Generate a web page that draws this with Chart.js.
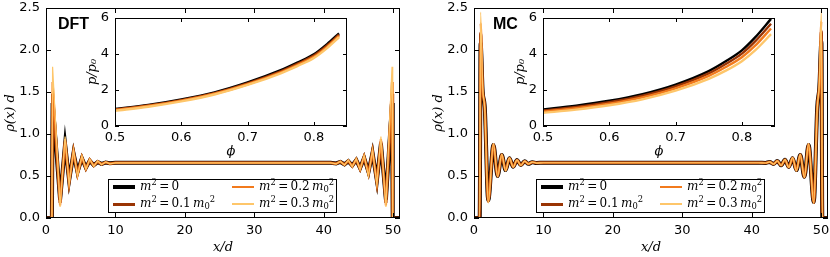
<!DOCTYPE html>
<html>
<head>
<meta charset="utf-8">
<script src="https://cdn.jsdelivr.net/npm/chart.js@4"></script>
<style>
  body { margin: 0; background: #fff; width: 830px; height: 257px; overflow: hidden; position: relative; }
  canvas { position: absolute; }
  .tag { position: absolute; font: bold 16px 'Liberation Sans', Arial, sans-serif; line-height: 16px; }
  .legend { position: absolute; width: 227px; height: 32px; border: 1px solid #000; background: #fff;
            font: 12px 'DejaVu Serif', serif; }
  .legend .ln { position: absolute; width: 22px; }
  .legend .tx { position: absolute; line-height: 14px; white-space: nowrap; }
  .legend i { font-style: italic; }
  .legend sup { font-size: 0.7em; vertical-align: 0.55em; line-height: 0; }
  .legend sub { font-size: 0.7em; vertical-align: -0.25em; line-height: 0; }
</style>
</head>
<body>
<canvas id="dftMain" width="402" height="257" style="left:0;top:0"></canvas>
<canvas id="mcMain" width="402" height="257" style="left:428px;top:0"></canvas>
<canvas id="dftInset" width="270" height="150" style="left:80px;top:10px"></canvas>
<canvas id="mcInset" width="270" height="150" style="left:508px;top:10px"></canvas>
<div class="tag" style="left:58px;top:16px">DFT</div>
<div class="tag" style="left:493px;top:16px">MC</div>
<div class="legend" id="legDft" style="left:108px;top:179px"></div>
<div class="legend" id="legMc" style="left:536px;top:179px"></div>
<script>
// series: m^2 = 0, 0.1, 0.2, 0.3 m0^2
var seriesNames = ['m² = 0', 'm² = 0.1 m₀²', 'm² = 0.2 m₀²', 'm² = 0.3 m₀²'];
var legendHtml = [
  '<i>m</i><sup>2</sup>&thinsp;=&thinsp;0',
  '<i>m</i><sup>2</sup>&thinsp;=&thinsp;0.1&thinsp;<i>m</i><sub>0</sub><sup>2</sup>',
  '<i>m</i><sup>2</sup>&thinsp;=&thinsp;0.2&thinsp;<i>m</i><sub>0</sub><sup>2</sup>',
  '<i>m</i><sup>2</sup>&thinsp;=&thinsp;0.3&thinsp;<i>m</i><sub>0</sub><sup>2</sup>'
];
var seriesColors = ['#000000', '#993404', '#f27a1c', '#fec66a'];
var mainWidths = [4, 3, 2.2, 1.2];

// DFT density profile, x/d
var dftX = [0, 0.85, 0.95, 2.03, 2.75, 3.33, 3.96, 4.54, 5.17, 5.75, 6.30, 6.88, 7.45, 8.00, 8.60, 9.20, 10.0,
            15, 20, 25.5, 31, 36,
            41.0, 41.8, 42.4, 43.0, 43.55, 44.12, 44.7, 45.25, 45.83, 46.46, 47.04, 47.67, 48.25, 48.97, 49.85, 49.95, 51];
var dftM0 = [0, 0, 1.37, 0.22, 0.88, 0.45, 0.77, 0.55, 0.71, 0.60, 0.68, 0.63, 0.665, 0.645, 0.66, 0.652, 0.657,
             0.657, 0.657, 0.657, 0.657, 0.657,
             0.657, 0.650, 0.668, 0.640, 0.675, 0.625, 0.69, 0.595, 0.715, 0.55, 0.775, 0.45, 0.885, 0.22, 1.37, 0, 0];
var dftM01 = [0, 0, 1.48, 0.18, 0.91, 0.43, 0.79, 0.53, 0.72, 0.59, 0.69, 0.625, 0.67, 0.64, 0.662, 0.65, 0.657,
              0.657, 0.657, 0.657, 0.657, 0.657,
              0.657, 0.648, 0.67, 0.636, 0.68, 0.62, 0.695, 0.585, 0.725, 0.535, 0.79, 0.43, 0.91, 0.18, 1.48, 0, 0];
var dftM02 = [0, 0, 1.62, 0.15, 0.94, 0.41, 0.80, 0.51, 0.73, 0.585, 0.695, 0.62, 0.675, 0.64, 0.665, 0.648, 0.657,
              0.657, 0.657, 0.657, 0.657, 0.657,
              0.657, 0.646, 0.672, 0.633, 0.684, 0.615, 0.70, 0.58, 0.735, 0.52, 0.80, 0.41, 0.94, 0.15, 1.62, 0, 0];
var dftM03 = [0, 0, 1.80, 0.13, 0.97, 0.40, 0.81, 0.50, 0.74, 0.58, 0.70, 0.615, 0.68, 0.635, 0.668, 0.645, 0.657,
              0.657, 0.657, 0.657, 0.657, 0.657,
              0.657, 0.644, 0.675, 0.63, 0.69, 0.61, 0.705, 0.575, 0.745, 0.50, 0.81, 0.40, 0.97, 0.13, 1.80, 0, 0];

// MC density profile, x/d
var mcX = [0, 0.82, 0.95, 1.25, 1.55, 2.05, 2.8, 3.4, 4.0, 4.55, 5.1, 5.65, 6.2, 6.75, 7.3, 7.85, 8.4, 9.0, 10,
           15, 20, 25.5, 31, 36,
           41, 42, 42.6, 43.15, 43.7, 44.25, 44.8, 45.35, 45.9, 46.45, 47.0, 47.6, 48.2, 48.95, 49.45, 49.75, 50.05, 50.18, 51];
var mcM0 = [0, 0, 2.08, 1.50, 1.32, 0.21, 0.87, 0.50, 0.75, 0.57, 0.71, 0.61, 0.69, 0.63, 0.675, 0.645, 0.665, 0.655, 0.658,
            0.658, 0.658, 0.658, 0.658, 0.658,
            0.658, 0.656, 0.667, 0.643, 0.678, 0.628, 0.692, 0.608, 0.712, 0.57, 0.75, 0.49, 0.87, 0.19, 1.32, 1.55, 2.10, 0, 0];
var mcM01 = [0, 0, 2.20, 1.52, 1.32, 0.20, 0.875, 0.50, 0.752, 0.57, 0.71, 0.61, 0.69, 0.63, 0.675, 0.645, 0.665, 0.655, 0.658,
             0.658, 0.658, 0.658, 0.658, 0.658,
             0.658, 0.656, 0.667, 0.643, 0.678, 0.627, 0.693, 0.606, 0.714, 0.568, 0.752, 0.488, 0.875, 0.185, 1.32, 1.57, 2.22, 0, 0];
var mcM02 = [0, 0, 2.32, 1.54, 1.31, 0.19, 0.88, 0.495, 0.755, 0.565, 0.712, 0.608, 0.69, 0.628, 0.676, 0.644, 0.665, 0.655, 0.658,
             0.658, 0.658, 0.658, 0.658, 0.658,
             0.658, 0.655, 0.668, 0.642, 0.679, 0.626, 0.694, 0.604, 0.716, 0.565, 0.755, 0.485, 0.88, 0.18, 1.31, 1.59, 2.34, 0, 0];
var mcM03 = [0, 0, 2.45, 1.56, 1.30, 0.18, 0.885, 0.49, 0.76, 0.56, 0.715, 0.605, 0.692, 0.626, 0.677, 0.643, 0.666, 0.654, 0.658,
             0.658, 0.658, 0.658, 0.658, 0.658,
             0.658, 0.655, 0.668, 0.641, 0.68, 0.625, 0.695, 0.602, 0.718, 0.562, 0.758, 0.482, 0.885, 0.175, 1.30, 1.61, 2.47, 0, 0];

// inset: pressure p/p0 against packing fraction phi
var dftPhi = [0.5, 0.55, 0.6, 0.65, 0.7, 0.75, 0.775, 0.8, 0.82, 0.838];
var dftP0  = [0.95, 1.17, 1.48, 1.87, 2.42, 3.10, 3.52, 3.98, 4.55, 5.15];
var dftP01 = [0.92, 1.14, 1.44, 1.83, 2.37, 3.04, 3.45, 3.91, 4.47, 5.07];
var dftP02 = [0.89, 1.11, 1.41, 1.79, 2.32, 2.98, 3.39, 3.84, 4.40, 5.00];
var dftP03 = [0.85, 1.07, 1.37, 1.75, 2.28, 2.93, 3.33, 3.78, 4.33, 4.93];
var mcPhi = [0.5, 0.55, 0.6, 0.65, 0.7, 0.75, 0.775, 0.8, 0.82, 0.844];
var mcP0  = [0.92, 1.13, 1.40, 1.77, 2.30, 3.05, 3.58, 4.20, 4.92, 5.95];
var mcP01 = [0.86, 1.06, 1.32, 1.68, 2.20, 2.92, 3.43, 4.02, 4.70, 5.68];
var mcP02 = [0.80, 0.99, 1.24, 1.59, 2.09, 2.78, 3.26, 3.82, 4.46, 5.42];
var mcP03 = [0.73, 0.91, 1.15, 1.48, 1.96, 2.62, 3.06, 3.60, 4.20, 5.10];

var tickFont = {family: 'DejaVu Sans', size: 13};
var titleFont = {family: 'DejaVu Serif', size: 13, style: 'italic'};

// white plot area, black box and inward ticks on all four sides
var boxFrame = {
  id: 'boxFrame',
  beforeDraw: function(chart) {
    var a = chart.chartArea, ctx = chart.ctx;
    ctx.save();
    ctx.fillStyle = '#fff';
    ctx.fillRect(a.left, a.top, a.right - a.left, a.bottom - a.top);
    ctx.restore();
  },
  afterDraw: function(chart, args, opts) {
    var a = chart.chartArea, ctx = chart.ctx, sx = chart.scales.x, sy = chart.scales.y;
    var len = opts.len || 4;
    ctx.save();
    ctx.strokeStyle = '#000';
    ctx.lineWidth = 1;
    ctx.beginPath();
    sx.ticks.forEach(function(t) {
      var p = Math.round(sx.getPixelForValue(t.value)) + 0.5;
      ctx.moveTo(p, a.bottom); ctx.lineTo(p, a.bottom - len);
      ctx.moveTo(p, a.top); ctx.lineTo(p, a.top + len);
    });
    sy.ticks.forEach(function(t) {
      var p = Math.round(sy.getPixelForValue(t.value)) + 0.5;
      ctx.moveTo(a.left, p); ctx.lineTo(a.left + len, p);
      ctx.moveTo(a.right, p); ctx.lineTo(a.right - len, p);
    });
    ctx.stroke();
    ctx.strokeRect(Math.round(a.left) + 0.5, Math.round(a.top) + 0.5,
                   Math.round(a.right - a.left) - 1, Math.round(a.bottom - a.top) - 1);
    ctx.restore();
  }
};

// fixed axis boxes so the plot areas land where the reference has them
function fixX(h) {
  return function(s) { s.height = h; s.paddingLeft = 0; s.paddingRight = 0; };
}
function fixY(w) {
  return function(s) { s.width = w; s.paddingTop = 0; s.paddingBottom = 0; };
}

function makeSets(xs, ys, widths, smooth) {
  return ys.map(function(s, i) {
    return {
      label: seriesNames[i],
      data: xs.map(function(x, j) { return {x: x, y: s[j]}; }),
      borderColor: seriesColors[i],
      borderWidth: widths[i],
      pointRadius: 0,
      tension: smooth ? 0.4 : 0,
      cubicInterpolationMode: smooth ? 'monotone' : 'default',
      order: ys.length - i
    };
  });
}

var noGrid = {display: false, drawTicks: false};

function mainChart(id, xs, ys, smooth) {
  new Chart(id, {
    type: 'line',
    data: {datasets: makeSets(xs, ys, mainWidths, smooth)},
    plugins: [boxFrame],
    options: {
      responsive: false, animation: false, devicePixelRatio: 1,
      layout: {padding: {top: 8, right: 2, left: 0, bottom: 0}},
      plugins: {legend: {display: false}, tooltip: {enabled: false}, boxFrame: {len: 5}},
      scales: {
        x: {
          type: 'linear', min: 0, max: 51,
          grid: noGrid, border: {display: false},
          ticks: {stepSize: 10, includeBounds: false, padding: 5, font: tickFont, color: '#000', maxRotation: 0},
          title: {display: true, text: 'x/d', font: titleFont, color: '#000', padding: {top: 0, bottom: 2}},
          afterFit: fixX(39)
        },
        y: {
          min: 0, max: 2.5,
          grid: noGrid, border: {display: false},
          ticks: {stepSize: 0.5, padding: 6, font: tickFont, color: '#000',
                  callback: function(v) { return v.toFixed(1); }},
          title: {display: true, text: 'ρ(x) d', font: titleFont, color: '#000', padding: {top: 3, bottom: 0}},
          afterFit: fixY(46)
        }
      }
    }
  });
}

function insetChart(id, xs, ys) {
  new Chart(id, {
    type: 'line',
    data: {datasets: makeSets(xs, ys, [2.4, 2.4, 2.4, 2.4], true)},
    plugins: [boxFrame],
    options: {
      responsive: false, animation: false, devicePixelRatio: 1,
      layout: {padding: {top: 8, right: 3, left: 0, bottom: 0}},
      plugins: {legend: {display: false}, tooltip: {enabled: false}, boxFrame: {len: 4}},
      scales: {
        x: {
          type: 'linear', min: 0.5, max: 0.85,
          grid: noGrid, border: {display: false},
          ticks: {stepSize: 0.1, includeBounds: false, padding: 4, font: tickFont, color: '#000', maxRotation: 0,
                  callback: function(v) { return v.toFixed(1); }},
          title: {display: true, text: 'ϕ', font: titleFont, color: '#000', padding: {top: 0, bottom: 1}},
          afterFit: fixX(34)
        },
        y: {
          min: 0, max: 6,
          grid: noGrid, border: {display: false},
          ticks: {stepSize: 2, padding: 6, font: tickFont, color: '#000'},
          title: {display: true, text: 'p/p₀', font: titleFont, color: '#000', padding: {top: 5, bottom: 0}},
          afterFit: fixY(35)
        }
      }
    }
  });
}

mainChart('dftMain', dftX, [dftM0, dftM01, dftM02, dftM03], false);
mainChart('mcMain', mcX, [mcM0, mcM01, mcM02, mcM03], true);
insetChart('dftInset', dftPhi, [dftP0, dftP01, dftP02, dftP03]);
insetChart('mcInset', mcPhi, [mcP0, mcP01, mcP02, mcP03]);

// legend boxes: left column m^2 = 0, 0.1; right column 0.2, 0.3
['legDft', 'legMc'].forEach(function(id) {
  var box = document.getElementById(id);
  var html = '';
  seriesNames.forEach(function(n, i) {
    var col = i < 2 ? 0 : 1, row = i % 2;
    var lx = col === 0 ? 4 : 123, ty = row === 0 ? 7 : 24;
    var w = mainWidths[i];
    html += '<div class="ln" style="left:' + lx + 'px;top:' + (ty - w / 2) + 'px;height:' + w + 'px;background:' + seriesColors[i] + '"></div>';
    html += '<div class="tx" style="left:' + (lx + 27) + 'px;top:' + (ty - 8) + 'px">' + legendHtml[i] + '</div>';
  });
  box.innerHTML = html;
});
</script>
</body>
</html>
